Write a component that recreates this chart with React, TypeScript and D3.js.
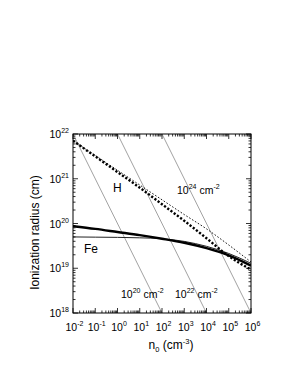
import React, { useRef, useEffect } from 'react';
import * as d3 from 'd3';

// log10 of density n0 (cm^-3)
const logN = [-2, -1, 0, 1, 2, 3, 4, 5, 6];
// log10 of ionization radius (cm)
const hThick = [21.85, 21.5, 21.15, 20.8, 20.43, 20.06, 19.67, 19.27, 18.97];
const hThin = [21.85, 21.52, 21.19, 20.86, 20.53, 20.2, 19.88, 19.52, 19.14];
const feThick = [19.94, 19.88, 19.81, 19.74, 19.66, 19.57, 19.45, 19.29, 19.06];
const feThin = [19.7, 19.695, 19.69, 19.68, 19.66, 19.6, 19.49, 19.33, 19.11];
// column density lines, log10 N (cm^-2)
const columnLogN = [20, 22, 24];
const xTickExp = [-2, -1, 0, 1, 2, 3, 4, 5, 6];
const yTickExp = [18, 19, 20, 21, 22];

const FONT = 'Liberation Sans, Arial, Helvetica, sans-serif';
const W = 295, H = 382;
const left = 73, right = 251, top = 134, bottom = 313;

export default function App() {
  const svgRef = useRef<SVGSVGElement>(null);

  useEffect(() => {
    const svg = d3.select(svgRef.current);
    svg.selectAll('*').remove();

    const x = d3.scaleLog().domain([1e-2, 1e6]).range([left, right]);
    const y = d3.scaleLog().domain([1e18, 1e22]).range([bottom, top]);

    svg.append('defs').append('clipPath').attr('id', 'plotclip')
      .append('rect')
      .attr('x', left).attr('y', top)
      .attr('width', right - left).attr('height', bottom - top);

    const plot = svg.append('g').attr('clip-path', 'url(#plotclip)');

    // column density lines r = N / n
    const nLine = [1e-2, 1e6];
    columnLogN.forEach(c => {
      plot.append('path')
        .attr('d', d3.line<number>()
          .x(n => x(n))
          .y(n => y(Math.pow(10, c) / n))(nLine))
        .attr('fill', 'none')
        .attr('stroke', '#8a8a8a')
        .attr('stroke-width', 0.8);
    });

    const curve = d3.line<[number, number]>()
      .x(d => x(Math.pow(10, d[0])))
      .y(d => y(Math.pow(10, d[1])))
      .curve(d3.curveMonotoneX);
    const pts = (arr: number[]) => logN.map((v, i) => [v, arr[i]] as [number, number]);

    plot.append('path').attr('d', curve(pts(feThin)))
      .attr('fill', 'none').attr('stroke', '#222').attr('stroke-width', 1);
    plot.append('path').attr('d', curve(pts(feThick)))
      .attr('fill', 'none').attr('stroke', '#000').attr('stroke-width', 2.4);
    plot.append('path').attr('d', curve(pts(hThin)))
      .attr('fill', 'none').attr('stroke', '#000').attr('stroke-width', 0.9)
      .attr('stroke-dasharray', '1.6,1.8');
    plot.append('path').attr('d', curve(pts(hThick)))
      .attr('fill', 'none').attr('stroke', '#000').attr('stroke-width', 2.4)
      .attr('stroke-dasharray', '2.2,1.8');

    // ticks (inward, all sides)
    const ticks = svg.append('g').attr('stroke', '#000').attr('stroke-width', 0.8);
    const isMajor = (v: number) => Math.abs(Math.log10(v) - Math.round(Math.log10(v))) < 1e-6;
    x.ticks().forEach(v => {
      const len = isMajor(v) ? 5 : 2.5;
      const px = x(v);
      ticks.append('line').attr('x1', px).attr('x2', px).attr('y1', bottom).attr('y2', bottom - len);
      ticks.append('line').attr('x1', px).attr('x2', px).attr('y1', top).attr('y2', top + len);
    });
    y.ticks().forEach(v => {
      const len = isMajor(v) ? 5 : 2.5;
      const py = y(v);
      ticks.append('line').attr('y1', py).attr('y2', py).attr('x1', left).attr('x2', left + len);
      ticks.append('line').attr('y1', py).attr('y2', py).attr('x1', right).attr('x2', right - len);
    });

    svg.append('rect')
      .attr('x', left).attr('y', top)
      .attr('width', right - left).attr('height', bottom - top)
      .attr('fill', 'none').attr('stroke', '#000').attr('stroke-width', 1);

    const txt = svg.append('g')
      .attr('font-family', FONT)
      .attr('fill', '#000')
      .style('white-space', 'pre');

    // x tick labels
    xTickExp.forEach(e => {
      const t = txt.append('text')
        .attr('x', x(Math.pow(10, e)) + 1.5)
        .attr('y', bottom + 18)
        .attr('text-anchor', 'middle')
        .attr('font-size', 10.5);
      t.append('tspan').text('10');
      t.append('tspan').attr('dy', -5).attr('font-size', 7).text(String(e));
    });

    // y tick labels
    yTickExp.forEach(e => {
      const t = txt.append('text')
        .attr('x', 69)
        .attr('y', y(Math.pow(10, e)) + 4)
        .attr('text-anchor', 'end')
        .attr('font-size', 10.5);
      t.append('tspan').text('10');
      t.append('tspan').attr('dy', -5).attr('font-size', 7).text(String(e));
    });

    // axis titles
    txt.append('text')
      .attr('transform', `translate(39,${(top + bottom) / 2 + 9}) rotate(-90)`)
      .attr('text-anchor', 'middle')
      .attr('font-size', 12)
      .text('Ionization  radius  (cm)');

    const xt = txt.append('text')
      .attr('x', 171).attr('y', 349)
      .attr('text-anchor', 'middle')
      .attr('font-size', 12);
    xt.append('tspan').text('n');
    xt.append('tspan').attr('dy', 3).attr('font-size', 7.5).text('0');
    xt.append('tspan').attr('dy', -3).text('  (cm');
    xt.append('tspan').attr('dy', -5).attr('font-size', 7.5).text('-3');
    xt.append('tspan').attr('dy', 5).text(')');

    // curve labels
    txt.append('text').attr('x', 113).attr('y', 192).attr('font-size', 12).text('H');
    txt.append('text').attr('x', 84).attr('y', 253).attr('font-size', 12).text('Fe');

    const colLabel = (lx: number, ly: number, e: number) => {
      const t = txt.append('text').attr('x', lx).attr('y', ly).attr('font-size', 10.5);
      t.append('tspan').text('10');
      t.append('tspan').attr('dy', -5).attr('font-size', 7).text(String(e));
      t.append('tspan').attr('dy', 5).text('  cm');
      t.append('tspan').attr('dy', -5).attr('font-size', 7).text('-2');
    };
    colLabel(177, 194, 24);
    colLabel(121, 298, 20);
    colLabel(175, 298, 22);
  }, []);

  return (
    <svg ref={svgRef} width={W} height={H}
      style={{ position: 'absolute', left: 0, top: 0, background: '#fff' }} />
  );
}
